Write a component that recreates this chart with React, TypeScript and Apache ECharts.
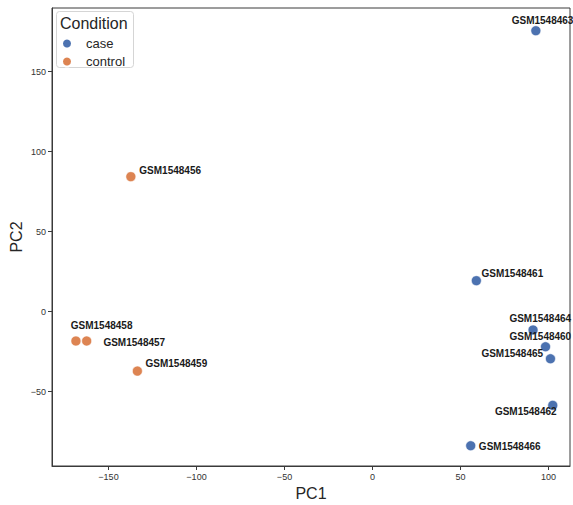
import React, { useEffect, useRef } from "react";
import * as echarts from "echarts";

const sampleNames = [
  "GSM1548463", "GSM1548456", "GSM1548461", "GSM1548464", "GSM1548460", "GSM1548465",
  "GSM1548462", "GSM1548466", "GSM1548458", "GSM1548457", "GSM1548459",
];
const pc1 = [92.8, -137.3, 59.0, 91.2, 98.3, 101.1, 102.4, 55.8, -168.5, -162.4, -133.6];
const pc2 = [175.6, 84.4, 19.4, -11.4, -21.9, -29.4, -58.5, -83.75, -18.3, -18.3, -37.1];
const conditions = [
  "case", "control", "case", "case", "case", "case", "case", "case", "control", "control", "control",
];
const conditionNames = ["case", "control"];
const xTicks = [-150, -100, -50, 0, 50, 100];
const yTicks = [-50, 0, 50, 100, 150];

// label placement (pixel offsets from the point) - layout only
const labelOffsets: Record<string, [number, number]> = {
  GSM1548463: [6.7, -10.7],
  GSM1548456: [39.3, -6],
  GSM1548461: [36, -7.4],
  GSM1548464: [7.2, -11],
  GSM1548460: [-5.2, -10],
  GSM1548465: [-38.2, -5.4],
  GSM1548462: [-27, 6.4],
  GSM1548466: [39, 1],
  GSM1548458: [25.7, -15.3],
  GSM1548457: [47.6, 1.3],
  GSM1548459: [39, -7.7],
};
const colors: Record<string, string> = { case: "#4C72B0", control: "#DD8452" };
const FONT = "'Liberation Sans', Arial, sans-serif";
const minus = (v: number) => String(v).replace("-", "\u2212");

export default function App() {
  const ref = useRef<HTMLDivElement>(null);
  useEffect(() => {
    document.body.style.margin = "0";
    if (!ref.current) return;
    const chart = echarts.init(ref.current, undefined, { renderer: "svg" });
    const series = conditionNames.map((cond) => ({
      name: cond,
      type: "scatter",
      symbol: "circle",
      symbolSize: 10,
      itemStyle: { color: colors[cond], borderColor: "#fff", borderWidth: 0.6, opacity: 1 },
      data: sampleNames
        .map((n, i) => ({ n, i }))
        .filter(({ i }) => conditions[i] === cond)
        .map(({ n, i }) => ({
          name: n,
          value: [pc1[i], pc2[i]],
          label: {
            show: true,
            formatter: n,
            position: "inside",
            align: "center",
            verticalAlign: "middle",
            offset: labelOffsets[n],
            fontFamily: FONT,
            fontSize: 10,
            fontWeight: "bold",
            color: "#1a1a1a",
          },
        })),
    }));
    chart.setOption({
      animation: false,
      backgroundColor: "#fff",
      textStyle: { fontFamily: FONT },
      grid: {
        left: 52, right: 3, top: 8, bottom: 39,
        outerBoundsMode: "none",
        containLabel: false,
        show: true, borderColor: "#3a3a3a", borderWidth: 1, backgroundColor: "transparent",
      },
      xAxis: {
        type: "value",
        min: -182.1,
        max: 112.2,
        name: "PC1",
        nameLocation: "middle",
        nameGap: 19,
        nameTextStyle: { fontSize: 16, color: "#262626", fontFamily: FONT },
        splitLine: { show: false },
        axisLine: { show: true, onZero: false, lineStyle: { color: "#3a3a3a", width: 1 } },
        axisTick: { show: true, length: 4, customValues: xTicks, lineStyle: { color: "#3a3a3a" } },
        axisLabel: {
          customValues: xTicks, formatter: minus, fontSize: 9, color: "#333", margin: 6, fontFamily: FONT,
          showMinLabel: true, showMaxLabel: true,
        },
      },
      yAxis: {
        type: "value",
        min: -96.4,
        max: 189.8,
        name: "PC2",
        nameLocation: "middle",
        nameGap: 28,
        nameMoveOverlap: false,
        nameRotate: 90,
        nameTextStyle: { fontSize: 16, color: "#262626", fontFamily: FONT },
        splitLine: { show: false },
        axisLine: { show: true, onZero: false, lineStyle: { color: "#3a3a3a", width: 1 } },
        axisTick: { show: true, length: 4, customValues: yTicks, lineStyle: { color: "#3a3a3a" } },
        axisLabel: {
          customValues: yTicks, formatter: minus, fontSize: 9, color: "#333", margin: 6, fontFamily: FONT,
        },
      },
      legend: {
        data: conditionNames,
        orient: "vertical",
        left: 56,
        top: 32,
        icon: "circle",
        itemWidth: 28,
        itemHeight: 10,
        itemGap: 5,
        z: 10,
        textStyle: { fontSize: 13, color: "#262626", fontFamily: FONT },
      },
      graphic: [
        {
          type: "rect",
          shape: { x: 56.5, y: 11.5, width: 77, height: 56, r: 3 },
          style: { fill: "rgba(255,255,255,0.8)", stroke: "#d5d5d5", lineWidth: 1 },
          z: 3,
        },
        {
          type: "text",
          x: 60,
          y: 15,
          style: { text: "Condition", fontSize: 16, fill: "#262626", fontFamily: FONT },
          z: 11,
        },
      ],
      series,
    });
    return () => chart.dispose();
  }, []);
  return <div ref={ref} style={{ width: 573, height: 505 }} />;
}
